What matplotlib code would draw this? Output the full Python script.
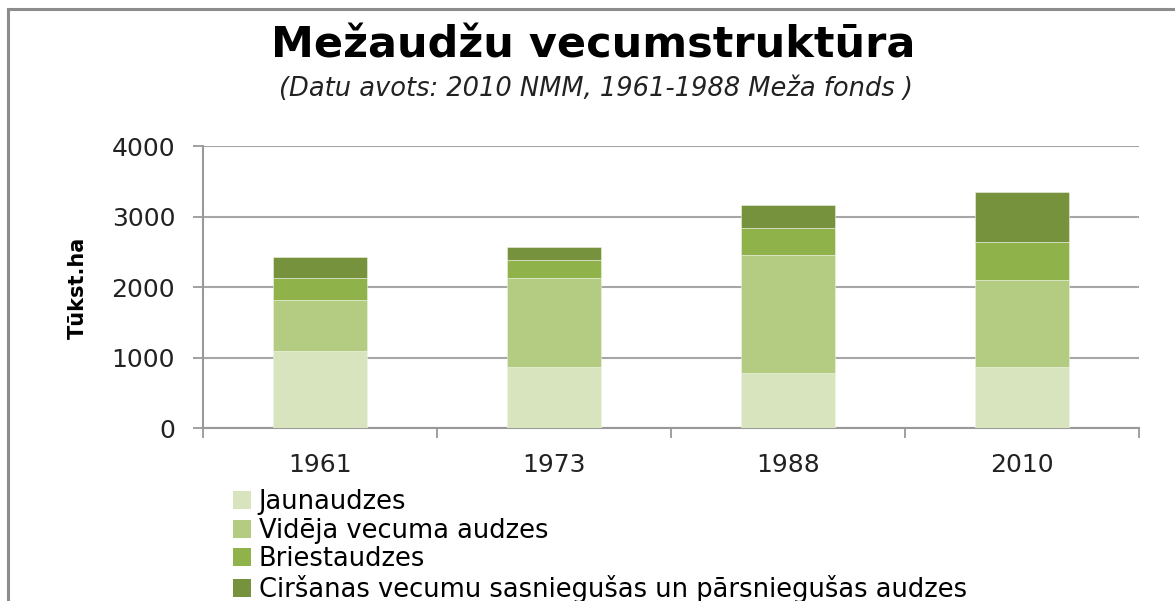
import matplotlib
matplotlib.use("Agg")
import matplotlib.pyplot as plt
from matplotlib.patches import Rectangle, Patch
import numpy as np

# data (thousand ha)
years = ["1961", "1973", "1988", "2010"]
jaunaudzes = [1095, 864, 788, 864]
videja = [727, 1269, 1671, 1232]
briestaudzes = [311, 255, 382, 543]
cirsanas = [289, 176, 326, 712]
labels = ["Jaunaudzes", "Vidēja vecuma audzes", "Briestaudzes",
          "Ciršanas vecumu sasniegušas un pārsniegušas audzes"]
colors = ["#D8E4BD", "#B3CC82", "#8FB34A", "#77923C"]

plt.rcParams["font.family"] = ["DejaVu Sans"]

fig = plt.figure(figsize=(11.75, 6.01), dpi=100)
W, H = 1175, 601
ax = fig.add_axes([203/W, 1-428.3/H, (1139-203)/W, (428.3-146)/H])

x = np.arange(len(years))
series = [jaunaudzes, videja, briestaudzes, cirsanas]
bottom = np.zeros(len(years))
for vals, c, lab in zip(series, colors, labels):
    ax.bar(x, vals, width=0.4, bottom=bottom, color=c, label=lab,
           edgecolor="#EEF3E4", linewidth=0.4, zorder=3)
    bottom += np.array(vals)

ax.set_xlim(-0.5, 3.5)
ax.set_ylim(0, 4000)
ax.set_yticks([0, 1000, 2000, 3000, 4000])
ax.set_xticks(x)
ax.set_xticklabels(years)
ax.set_xticks(np.arange(-0.5, 4, 1), minor=True)
ax.tick_params(axis="x", which="major", length=0, pad=18, labelsize=18, colors="#222222")
ax.tick_params(axis="x", which="minor", length=7, width=1.3, color="#999999", direction="out")
ax.tick_params(axis="y", length=7, width=1.3, color="#999999", pad=13,
               labelsize=18, labelcolor="#222222")
ax.grid(axis="y", color="#A6A6A6", linewidth=1.5, zorder=0)
for s in ["top", "right"]:
    ax.spines[s].set_visible(False)
for s in ["left", "bottom"]:
    ax.spines[s].set_color("#999999")
    ax.spines[s].set_linewidth(1.5)

fig.text(78/W, 1-288/H, "Tūkst.ha", rotation=90, ha="center", va="center",
         fontsize=15, fontweight="bold")
fig.text(593/W, 1-58/H, "Mežaudžu vecumstruktūra", ha="center", va="baseline",
         fontsize=31, fontweight="bold")
fig.text(596/W, 1-89/H, "(Datu avots: 2010 NMM, 1961-1988 Meža fonds )",
         ha="center", va="center", fontsize=18.5, style="italic", color="#222222")

handles = [Patch(facecolor=c, edgecolor="none") for c in colors]
fig.legend(handles, labels, loc="upper left", bbox_to_anchor=(233/W, 1-489/H),
           frameon=False, fontsize=18.5, handlelength=0.7, handleheight=0.7,
           handletextpad=0.3, labelspacing=0.1, borderaxespad=0, borderpad=0)

# outer chart frame (cut off at right and bottom)
fig.add_artist(Rectangle((8/W, -0.1), 1.2, 1-9/H+0.1, transform=fig.transFigure,
                         fill=False, edgecolor="#8C8C8C", linewidth=2.2))

fig.savefig("out.png", dpi=100)
